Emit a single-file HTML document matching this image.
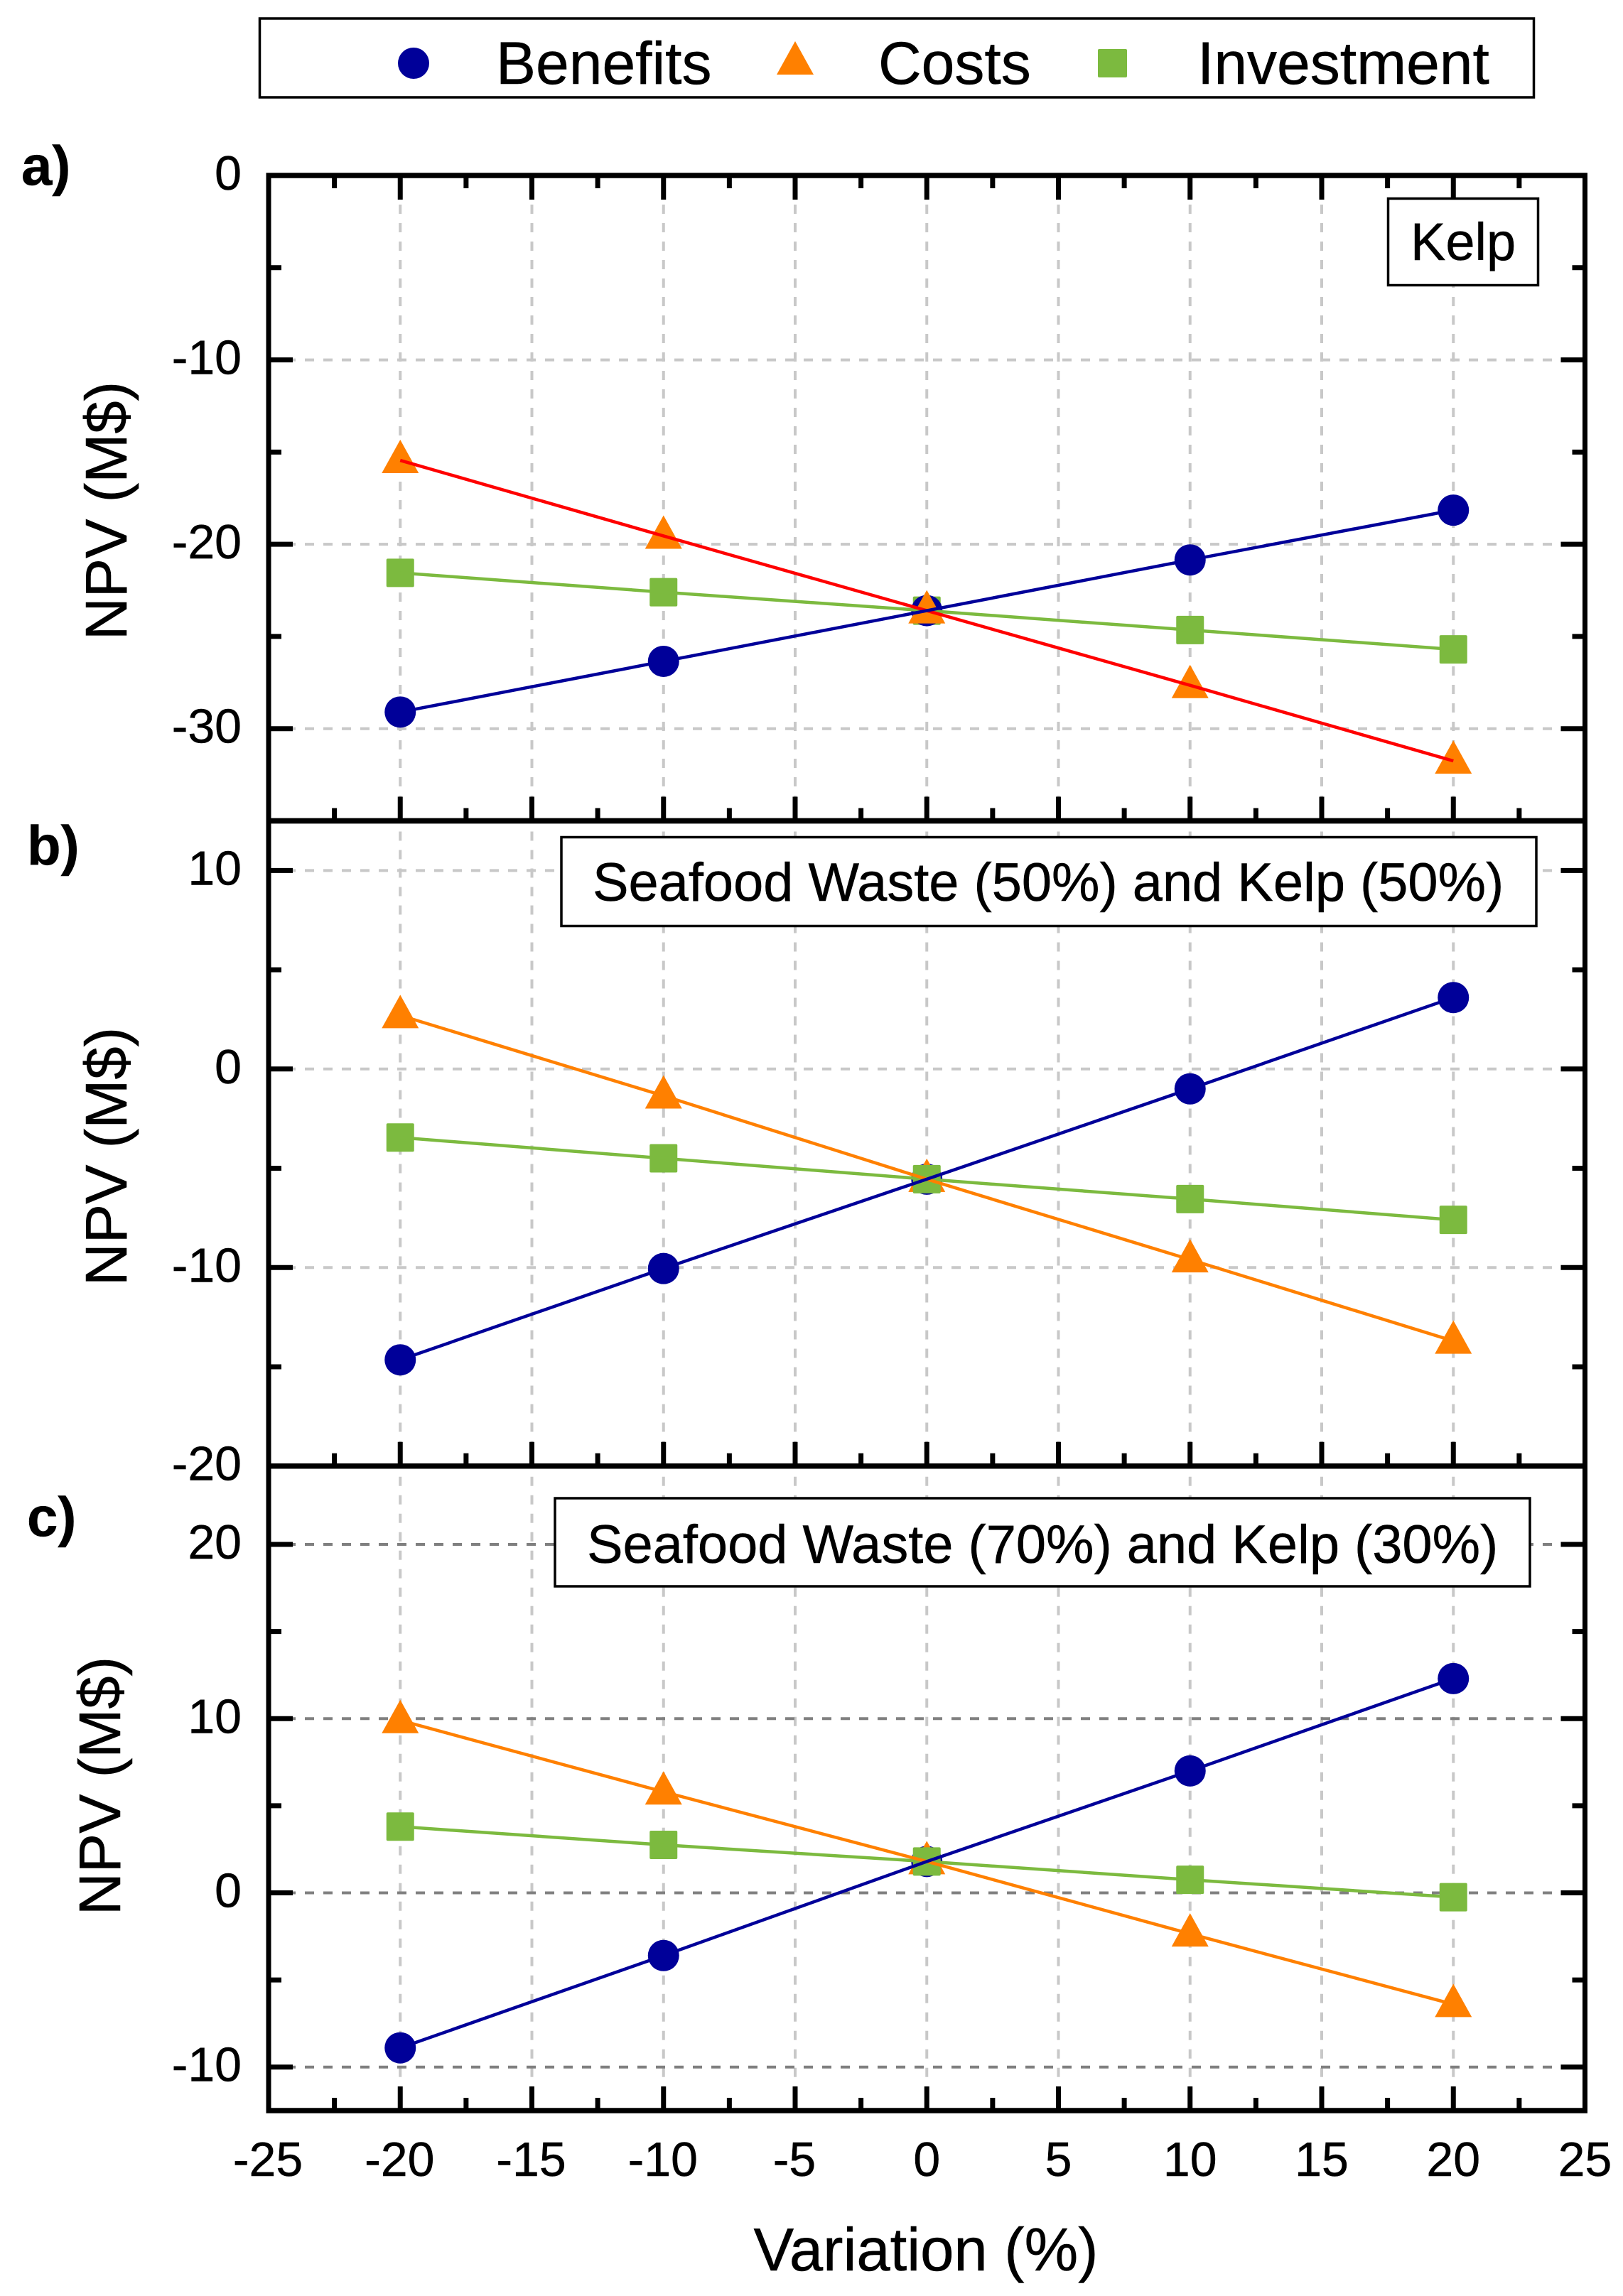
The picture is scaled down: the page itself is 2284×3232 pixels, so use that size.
<!DOCTYPE html>
<html lang="en">
<head>
<meta charset="utf-8">
<title>NPV sensitivity to variation</title>
<style>
html,body{margin:0;padding:0;background:#fff;}
svg{display:block;}
text{font-family:"Liberation Sans",Arial,sans-serif;fill:#000;stroke:#000;stroke-width:0.5px;}
</style>
</head>
<body>
<svg id="chart" xmlns="http://www.w3.org/2000/svg" width="2284" height="3232" viewBox="0 0 2284 3232">
  <rect x="0" y="0" width="2284" height="3232" fill="#fff"/>

  <g>
    <rect x="365.5" y="26" width="1793" height="111" fill="#fff" stroke="#000" stroke-width="3.5"/>
    <circle cx="582" cy="89" r="22" fill="#000099"/>
    <text x="698" y="118" font-size="84">Benefits</text>
    <polygon points="1119,58 1145,105 1093,105" fill="#ff8000"/>
    <text x="1236" y="118" font-size="84">Costs</text>
    <rect x="1545" y="69" width="41" height="40" rx="2" fill="#7cba3f"/>
    <text x="1685" y="118" font-size="84">Investment</text>
  </g>

  <g id="grid-layer"></g>
  <g id="axes-layer"></g>

  <g>
    <text x="30" y="260" font-size="78" font-weight="bold">a)</text>
    <text x="38" y="1217" font-size="78" font-weight="bold">b)</text>
    <text x="38" y="2162" font-size="78" font-weight="bold">c)</text>
  </g>

  <g>
    <text transform="translate(178 719) rotate(-90)" text-anchor="middle" font-size="83">NPV (M$)</text>
    <text transform="translate(178 1628) rotate(-90)" text-anchor="middle" font-size="83">NPV (M$)</text>
    <text transform="translate(169 2514) rotate(-90)" text-anchor="middle" font-size="83">NPV (M$)</text>
    <text x="1303" y="3196" text-anchor="middle" font-size="85">Variation (%)</text>
  </g>

  <g>
    <rect x="1953.5" y="279.5" width="211" height="122" fill="#fff" stroke="#000" stroke-width="3.5"/>
    <text x="1985" y="366" font-size="74">Kelp</text>
    <rect x="790" y="1178.5" width="1372" height="125" fill="#fff" stroke="#000" stroke-width="3.5"/>
    <text x="834" y="1268" font-size="75.8">Seafood Waste (50%) and Kelp (50%)</text>
    <rect x="781" y="2109" width="1372" height="124" fill="#fff" stroke="#000" stroke-width="3.5"/>
    <text x="826" y="2200" font-size="75.8">Seafood Waste (70%) and Kelp (30%)</text>
  </g>

  <g id="marks-layer"></g>
</svg>

<script>
// ---- data -----------------------------------------------------------
const variations = [-20, -10, 0, 10, 20];

const kelpBenefits = [-29.1, -26.35, -23.6, -20.85, -18.15];
const kelpCosts = [-15.45, -19.55, -23.6, -27.65, -31.75];
const kelpInvestment = [-21.55, -22.6, -23.6, -24.65, -25.7];

const mix50Benefits = [-14.65, -10.05, -5.55, -1.0, 3.6];
const mix50Costs = [2.7, -1.35, -5.55, -9.6, -13.7];
const mix50Investment = [-3.45, -4.5, -5.55, -6.55, -7.6];

const mix70Benefits = [-8.9, -3.6, 1.8, 7.0, 12.3];
const mix70Costs = [9.9, 5.8, 1.8, -2.35, -6.4];
const mix70Investment = [3.8, 2.75, 1.8, 0.75, -0.25];

const xTickLabels = [-25, -20, -15, -10, -5, 0, 5, 10, 15, 20, 25];
const xMinorTicks = [-22.5, -17.5, -12.5, -7.5, -2.5, 2.5, 7.5, 12.5, 17.5, 22.5];

const kelpYTicks = [0, -10, -20, -30];
const kelpYMinor = [-5, -15, -25];
const kelpYDomain = [0, -35];

const mix50YTicks = [10, 0, -10, -20];
const mix50YMinor = [5, -5, -15];
const mix50YDomain = [12.5, -20];

const mix70YTicks = [20, 10, 0, -10];
const mix70YMinor = [15, 5, -5];
const mix70YDomain = [24.5, -12.5];

// ---- layout & style ---------------------------------------------------
const plotLeft = 378, plotRight = 2230.5;
const xDomain = [-25, 25];
const BLUE = '#000099', ORANGE = '#ff8000', GREEN = '#7cba3f', RED = '#ff0000';
const NS = 'http://www.w3.org/2000/svg';

const panels = [
  {id: 'a', top: 247, bottom: 1155.5, domain: kelpYDomain, ticks: kelpYTicks, minor: kelpYMinor,
   benefits: kelpBenefits, costs: kelpCosts, investment: kelpInvestment,
   costsLine: RED, gridColor: '#c8c8c8', topTicks: true, markerOrder: ['investment', 'benefits', 'costs']},
  {id: 'b', top: 1155.5, bottom: 2063.7, domain: mix50YDomain, ticks: mix50YTicks, minor: mix50YMinor,
   benefits: mix50Benefits, costs: mix50Costs, investment: mix50Investment,
   costsLine: ORANGE, gridColor: '#c8c8c8', topTicks: false, markerOrder: ['benefits', 'costs', 'investment']},
  {id: 'c', top: 2063.7, bottom: 2971, domain: mix70YDomain, ticks: mix70YTicks, minor: mix70YMinor,
   benefits: mix70Benefits, costs: mix70Costs, investment: mix70Investment,
   costsLine: ORANGE, gridColor: '#808080', topTicks: false, markerOrder: ['benefits', 'costs', 'investment']}
];

const gridLayer = document.getElementById('grid-layer');
const axesLayer = document.getElementById('axes-layer');
const marksLayer = document.getElementById('marks-layer');

function xScale(v) {
  return plotLeft + (v - xDomain[0]) * (plotRight - plotLeft) / (xDomain[1] - xDomain[0]);
}
function yScale(panel, v) {
  return panel.top + (panel.domain[0] - v) * (panel.bottom - panel.top) / (panel.domain[0] - panel.domain[1]);
}
function make(parent, tag, attrs, name) {
  const el = document.createElementNS(NS, tag);
  
  
  for (const k in attrs) el.setAttribute(k, attrs[k]);
  parent.appendChild(el);
  return el;
}
function line(parent, x1, y1, x2, y2, stroke, width, name, extra) {
  return make(parent, 'line', Object.assign({x1, y1, x2, y2, stroke, 'stroke-width': width}, extra || {}), name);
}

// ---- drawing ----------------------------------------------------------
panels.forEach(function (p) {
  // grid
  xTickLabels.slice(1, -1).forEach(function (v) {
    line(gridLayer, xScale(v), p.top, xScale(v), p.bottom, '#c8c8c8', 4, 'grid-vertical-' + p.id + '-' + v,
      {'stroke-dasharray': '13 13', 'stroke-dashoffset': 11});
  });
  p.ticks.forEach(function (v) {
    line(gridLayer, plotLeft - 1, yScale(p, v), plotRight, yScale(p, v), p.gridColor, 4, 'grid-horizontal-' + p.id + '-' + v,
      {'stroke-dasharray': '13 13'});
  });

  // x ticks
  xTickLabels.slice(1, -1).forEach(function (v) {
    line(axesLayer, xScale(v), p.bottom, xScale(v), p.bottom - 34, '#000', 7, 'x-major-tick-' + p.id + '-' + v);
    if (p.topTicks) line(axesLayer, xScale(v), p.top, xScale(v), p.top + 34, '#000', 7, 'x-major-tick-top-' + p.id + '-' + v);
  });
  xMinorTicks.forEach(function (v) {
    line(axesLayer, xScale(v), p.bottom, xScale(v), p.bottom - 18, '#000', 7, 'x-minor-tick-' + p.id + '-' + v);
    if (p.topTicks) line(axesLayer, xScale(v), p.top, xScale(v), p.top + 18, '#000', 7, 'x-minor-tick-top-' + p.id + '-' + v);
  });

  // y ticks and labels
  p.ticks.forEach(function (v) {
    const y = yScale(p, v);
    line(axesLayer, plotLeft, y, plotLeft + 34, y, '#000', 7, 'y-major-tick-left-' + p.id + '-' + v);
    line(axesLayer, plotRight, y, plotRight - 34, y, '#000', 7, 'y-major-tick-right-' + p.id + '-' + v);
    const t = make(axesLayer, 'text', {x: 340, y: y + 20, 'text-anchor': 'end', 'font-size': 68}, 'y-tick-label-' + p.id + '-' + v);
    t.textContent = String(v);
  });
  p.minor.forEach(function (v) {
    const y = yScale(p, v);
    line(axesLayer, plotLeft, y, plotLeft + 18, y, '#000', 7, 'y-minor-tick-left-' + p.id + '-' + v);
    line(axesLayer, plotRight, y, plotRight - 18, y, '#000', 7, 'y-minor-tick-right-' + p.id + '-' + v);
  });

  // spines
  line(axesLayer, plotLeft - 3.5, p.top, plotRight + 3.5, p.top, '#000', 7.5, 'top-spine-' + p.id);
  line(axesLayer, plotLeft - 3.5, p.bottom, plotRight + 3.5, p.bottom, '#000', 7.5, 'bottom-spine-' + p.id);
  line(axesLayer, plotLeft, p.top, plotLeft, p.bottom, '#000', 7, 'left-spine-' + p.id);
  line(axesLayer, plotRight, p.top, plotRight, p.bottom, '#000', 7, 'right-spine-' + p.id);

  // markers
  const panelGroup = make(marksLayer, 'g', {}, 'panel-' + p.id + '-series');
  p.markerOrder.forEach(function (series) {
    p[series].forEach(function (val, i) {
      const cx = xScale(variations[i]);
      const cy = yScale(p, val);
      const nm = series + '-point-' + p.id + '-' + variations[i];
      if (series === 'benefits') {
        make(panelGroup, 'circle', {cx: cx, cy: cy, r: 22, fill: BLUE}, nm);
      } else if (series === 'costs') {
        make(panelGroup, 'polygon', {points: (cx) + ',' + (cy - 29) + ' ' + (cx + 26) + ',' + (cy + 18) + ' ' + (cx - 26) + ',' + (cy + 18), fill: ORANGE}, nm);
      } else {
        make(panelGroup, 'rect', {x: cx - 19.5, y: cy - 20, width: 39, height: 40, rx: 2, fill: GREEN}, nm);
      }
    });
  });

  // connecting lines
  const toPoints = function (values) {
    return values.map(function (val, i) { return xScale(variations[i]) + ',' + yScale(p, val); }).join(' ');
  };
  make(panelGroup, 'polyline', {points: toPoints(p.investment), fill: 'none', stroke: GREEN, 'stroke-width': 4.5}, 'investment-line-' + p.id);
  make(panelGroup, 'polyline', {points: toPoints(p.costs), fill: 'none', stroke: p.costsLine, 'stroke-width': 4.5}, 'costs-line-' + p.id);
  make(panelGroup, 'polyline', {points: toPoints(p.benefits), fill: 'none', stroke: BLUE, 'stroke-width': 4.5}, 'benefits-line-' + p.id);
});

// x tick labels (bottom panel only)
xTickLabels.forEach(function (v) {
  const t = make(axesLayer, 'text', {x: xScale(v) - (v < 0 ? 1 : 0), y: 3063, 'text-anchor': 'middle', 'font-size': 68}, 'x-tick-label-' + v);
  t.textContent = String(v);
});
</script>
</body>
</html>
